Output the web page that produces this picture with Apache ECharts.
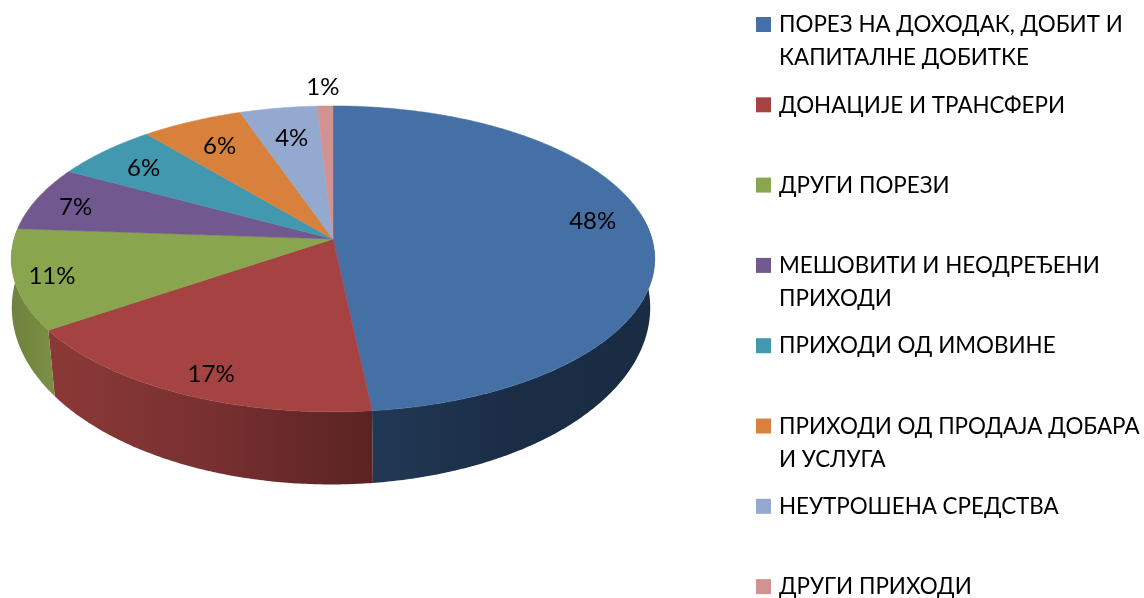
<!DOCTYPE html>
<html>
<head>
<meta charset="utf-8">
<script src="https://cdn.jsdelivr.net/npm/echarts@6/dist/echarts.min.js"></script>
<style>
  html, body { margin: 0; padding: 0; background: #fff; }
  #chart { width: 1144px; height: 598px; }
</style>
</head>
<body>
<div id="chart"></div>
<script>
const categories = [
  'ПОРЕЗ НА ДОХОДАК, ДОБИТ И\nКАПИТАЛНЕ ДОБИТКЕ',
  'ДОНАЦИЈЕ И ТРАНСФЕРИ',
  'ДРУГИ ПОРЕЗИ',
  'МЕШОВИТИ И НЕОДРЕЂЕНИ\nПРИХОДИ',
  'ПРИХОДИ ОД ИМОВИНЕ',
  'ПРИХОДИ ОД ПРОДАЈА ДОБАРА\nИ УСЛУГА',
  'НЕУТРОШЕНА СРЕДСТВА',
  'ДРУГИ ПРИХОДИ'
]
const values = [48.3, 17.2, 10.6, 6.8, 6.0, 5.8, 4.4, 0.9]
const colors = ['#4570a5', '#a54342', '#89a54e', '#71588f', '#4198af', '#d8813d', '#93a9cf', '#d19392']
// side wall shading, left to right
const wallColors = [
  ['#213855', '#1b2d45', '#1a2c43'],
  ['#8b3937', '#783030', '#5a2322'],
  ['#6f8340', '#76883f', '#7a8f46']
]
// label distance from the centre as a share of the radius, plus a small nudge
const labelRadius = [0.82, 0.87, 0.87, 0.87, 0.8, 0.8, 0.77, 1.16]
const labelNudge = [[0, -11], [8, 3], [-5, 2], [1, 4], [-4, 1], [2, 3], [2, 3], [-1, 0]]

const FONT = 'Lato, "Open Sans", "Noto Sans", sans-serif'

// the disc is seen in perspective, so each rim has its own projection
const topRim = { cx: 333, cy: 239, b: 319, a: 150.4, k: 0.13, turn: 0 }
const lowRim = { cx: 331, cy: 290, b: 317.6, a: 175, k: 0.1, turn: -0.7 }

function project(rim, deg, r) {
  const rad = (deg + rim.turn) * Math.PI / 180
  const x = Math.sin(rad) * r
  const y = Math.cos(rad) * r
  const w = 1 + rim.k * y
  return [rim.cx + rim.b * x / w, rim.cy - rim.a * y / w]
}

function arc(rim, from, to) {
  const pts = []
  const n = Math.max(2, Math.ceil((to - from) / 0.5))
  for (let i = 0; i <= n; i++) {
    pts.push(project(rim, from + (to - from) * i / n, 1))
  }
  return pts
}

const total = values.reduce((a, b) => a + b, 0)
let cum = 0
const sliceData = values.map((v, i) => {
  const start = cum / total * 360
  cum += v
  return [start, cum / total * 360, i]
})

function renderWall(params, api) {
  const i = api.value(2)
  const from = Math.max(api.value(0), 80)
  const to = Math.min(api.value(1), 274)
  if (to <= from || !wallColors[i]) return { type: 'group', children: [] }
  const c = wallColors[i]
  const fill = {
    type: 'linear', x: 0, y: 0, x2: 1, y2: 0,
    colorStops: [
      { offset: 0, color: c[0] },
      { offset: 0.5, color: c[1] },
      { offset: 1, color: c[2] }
    ]
  }
  return {
    type: 'polygon',
    shape: { points: arc(topRim, from, to).concat(arc(lowRim, from, to).reverse()) },
    style: { fill: fill }
  }
}

function renderTop(params, api) {
  const i = api.value(2)
  const from = api.value(0)
  const to = api.value(1)
  const pos = project(topRim, (from + to) / 2, labelRadius[i])
  return {
    type: 'group',
    children: [
      {
        type: 'polygon',
        shape: { points: [[topRim.cx, topRim.cy]].concat(arc(topRim, from, to)) },
        style: { fill: colors[i], stroke: colors[i], lineWidth: 0.5 }
      },
      {
        type: 'text',
        z2: 10,
        style: {
          x: pos[0] + labelNudge[i][0],
          y: pos[1] + labelNudge[i][1],
          text: Math.round(values[i] / total * 100) + '%',
          fill: '#000',
          font: '24px ' + FONT,
          align: 'center',
          verticalAlign: 'middle'
        }
      }
    ]
  }
}

const legendElements = []
categories.forEach((name, i) => {
  const mid = 24.5 + i * 80.3
  legendElements.push({
    type: 'rect',
    shape: { x: 756, y: mid - 7.5, width: 15, height: 15 },
    style: { fill: colors[i] }
  })
  legendElements.push({
    type: 'text',
    style: {
      x: 779,
      y: mid - 16,
      text: name,
      fill: '#000',
      font: '22.4px ' + FONT,
      lineHeight: 33,
      verticalAlign: 'top'
    }
  })
})

const chart = echarts.init(document.getElementById('chart'))
chart.setOption({
  animation: false,
  backgroundColor: '#fff',
  graphic: { elements: legendElements },
  series: [
    { type: 'custom', coordinateSystem: 'none', silent: true, data: sliceData, renderItem: renderWall },
    { type: 'custom', coordinateSystem: 'none', silent: true, data: sliceData, renderItem: renderTop }
  ]
})
</script>
</body>
</html>
